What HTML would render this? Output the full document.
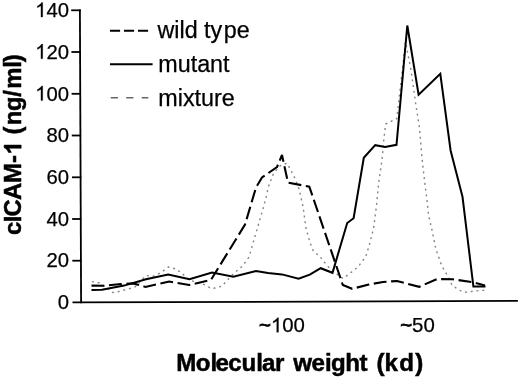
<!DOCTYPE html>
<html><head><meta charset="utf-8"><style>
html,body{margin:0;padding:0;background:#fff;width:520px;height:379px;overflow:hidden}
svg{display:block;filter:blur(0.35px)}
text{font-family:"Liberation Sans",sans-serif;fill:#000;stroke:#000;stroke-width:0.25px}
.h1{fill:none;stroke:none}
.tl{stroke-width:0.8px}
</style></head><body>
<svg width="520" height="379" viewBox="0 0 520 379">
<rect width="520" height="379" fill="#fff"/>
<g stroke="#000" stroke-width="1.8" fill="none">
<line x1="79.9" y1="9.5" x2="81.1" y2="303.2"/>
<line x1="72.5" y1="302.4" x2="517.9" y2="300.9"/>
<line x1="71.2" y1="10.3" x2="80.7" y2="10.3"/>
<line x1="71.4" y1="52.0" x2="80.9" y2="52.0"/>
<line x1="71.6" y1="93.8" x2="81.0" y2="93.8"/>
<line x1="71.8" y1="135.5" x2="81.1" y2="135.5"/>
<line x1="72.0" y1="177.3" x2="81.3" y2="177.3"/>
<line x1="72.1" y1="219.0" x2="81.4" y2="219.0"/>
<line x1="72.3" y1="260.7" x2="81.6" y2="260.7"/>
</g>
<g font-size="20.3" text-anchor="end">
<text x="69" y="17"><tspan class="h1">1</tspan>40</text>
<text x="69" y="58.7"><tspan class="h1">1</tspan>20</text>
<text x="69" y="100.5"><tspan class="h1">1</tspan>00</text>
<text x="69" y="142.2">80</text>
<text x="69" y="184">60</text>
<text x="69" y="225.7">40</text>
<text x="69" y="267.4">20</text>
<text x="69" y="309.1">0</text>
</g>
<g font-size="20.4">
<text x="259" y="332.3"><tspan class="tl">~</tspan><tspan class="h1">1</tspan>00</text>
<text x="400.2" y="332.3"><tspan class="tl">~</tspan>50</text>
</g>
<text id="xt" x="176.20 195.66 210.38 215.57 228.18 241.58 256.28 261.99 274.88 285.47 293.36 311.59 324.90 330.98 345.20 359.52 368.95 376.54 384.47 399.21 415.28" y="371" font-size="24.1" font-weight="bold" style="stroke-width:0.5px">Molecular weight (kd)</text>
<text id="yt" transform="translate(21.2,235) rotate(-90)" x="0.00 12.73 18.54 35.13 51.90 72.03 81.97 93.62 100.53 109.75 124.08 138.31 146.24 167.19 172.80" font-size="23.8" font-weight="bold" style="stroke-width:0.5px">cICAM-<tspan class="h1">1</tspan> (ng/ml)</text>
<g fill="none">
<line x1="110" y1="30.7" x2="148.2" y2="30.7" stroke="#000" stroke-width="1.9" stroke-dasharray="10.1 3.9"/>
<line x1="110" y1="64.2" x2="152.6" y2="64.2" stroke="#000" stroke-width="1.9"/>
<line x1="110.7" y1="97.7" x2="148.3" y2="97.7" stroke="#666" stroke-width="1.4" stroke-dasharray="7.2 8.3"/>
</g>
<g font-size="23.3">
<text x="157.5" y="37.8">wild ty<tspan dx="1.5">pe</tspan></text>
<text x="158.3" y="71.6">mutant</text>
<text x="158.3" y="105.5">mixture</text>
</g>
<path transform="translate(35.16,17.00) scale(0.00991,-0.00991)" d="M763 0H583V1147Q518 1085 412 1023Q307 961 223 930V1104Q374 1175 487 1276Q600 1377 647 1472H763Z" stroke="#000" stroke-width="25.2"/>
<path transform="translate(35.16,58.70) scale(0.00991,-0.00991)" d="M763 0H583V1147Q518 1085 412 1023Q307 961 223 930V1104Q374 1175 487 1276Q600 1377 647 1472H763Z" stroke="#000" stroke-width="25.2"/>
<path transform="translate(35.16,100.50) scale(0.00991,-0.00991)" d="M763 0H583V1147Q518 1085 412 1023Q307 961 223 930V1104Q374 1175 487 1276Q600 1377 647 1472H763Z" stroke="#000" stroke-width="25.2"/>
<path transform="translate(270.92,332.30) scale(0.00996,-0.00996)" d="M763 0H583V1147Q518 1085 412 1023Q307 961 223 930V1104Q374 1175 487 1276Q600 1377 647 1472H763Z" stroke="#000" stroke-width="25.1"/>
<path transform="translate(21.2,235) rotate(-90) translate(77.87,0.00) scale(0.01162,-0.01162)" d="M1040 0H759V1059Q605 915 396 846V1101Q506 1137 635 1237Q764 1338 812 1472H1040Z" stroke="#000" stroke-width="43.0"/>
<g fill="none" stroke-linejoin="miter" stroke-miterlimit="3">
<polyline stroke="#858585" stroke-width="1.4" stroke-dasharray="2 3.8" points="91.9,281.6 98.7,282.7 104,286 112.8,292.5 117.5,291.9 123.3,290.2 128.5,289 135,287 146,275.5 152.7,276.3 157.3,274.6 161.3,272.3 168.5,267 176,269 181.5,273 190,280.5 196,281.8 205.4,285 211,288.5 216,288 222,286 229.3,278 234,273.3 238.8,269.3 243,265.5 249,257 265.5,200 268.6,186 273.5,173.5 280.5,165.5 287,163.2 291.7,172 295,178.4 299,189 303,206.4 306,228 309.6,241.6 313.3,250.9 319.7,256.4 328,266.6 335.5,273 343,278.6 351.3,272.3 358,267 365.8,256.5 369.8,243.3 373.7,227.5 376.4,206.4 379,180 382,160 383.8,139.8 385.7,124 396.8,118.6 405.5,42 411,70 416,106 419.5,128 422,158 425,185 427,200 428.5,215 432.2,231 435.8,249 441.7,265.5 447.9,276.4 451.9,285 457.2,288.9 463.1,292.2 468.4,292 474.3,291 484.5,290.2"/>
<polyline stroke="#000" stroke-width="2.1" stroke-dasharray="12.9 4.58" points="91.5,285.6 104,285.8 121,284 133,283.4 145.4,286.9 169.2,281.5 189.2,285 210.9,280 245,224.6 256,187.5 262,177.5 277,167 282,155 288,182.7 309.3,186.6 342.8,285 352.2,288.8 368.8,284.5 383,282 397,281 419.2,286.8 437,279 453,279.3 471.7,282 485,285.5"/>
<polyline stroke="#000" stroke-width="2" points="91.5,290 102,289.8 124,285.6 146,279.2 168.2,274.6 189.5,279.2 212,272.6 233.3,276.8 256,271 268,273 282,274.4 298.6,278.8 309.8,274.6 320.7,268.2 332.5,272.8 347.2,223 353.6,218.2 363.8,157.8 375.2,145.2 385.1,147.1 396.5,144.8 407.3,25.5 418.6,94.6 440.3,73.9 450.6,150.5 462.5,196.8 473.4,286.5 485.5,286.5"/>
</g>
</svg>
</body></html>
